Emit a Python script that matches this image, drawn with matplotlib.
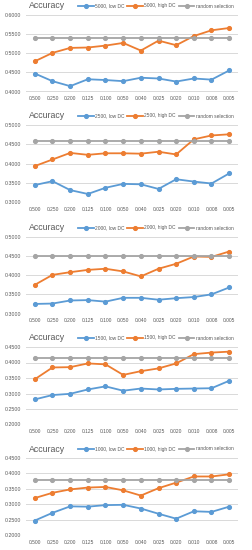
import numpy as np
import matplotlib
matplotlib.use('Agg')
import matplotlib.pyplot as plt

plt.rcParams['font.family'] = ['Liberation Sans', 'DejaVu Sans']

##----- data
fractions = ['0.500', '0.250', '0.200', '0.125', '0.100', '0.050',
             '0.040', '0.025', '0.020', '0.010', '0.008', '0.005']
sizes = ['5000', '2500', '2000', '1500', '1000']

low_5000 = [0.447, 0.427, 0.414, 0.432, 0.430, 0.427, 0.436, 0.434, 0.426, 0.434, 0.431, 0.455]
high_5000 = [0.479, 0.501, 0.514, 0.515, 0.520, 0.527, 0.507, 0.533, 0.521, 0.545, 0.560, 0.566]
rand_5000 = 0.541

low_2500 = [0.345, 0.355, 0.332, 0.322, 0.338, 0.348, 0.347, 0.335, 0.360, 0.354, 0.349, 0.375]
high_2500 = [0.394, 0.411, 0.428, 0.423, 0.427, 0.427, 0.426, 0.431, 0.424, 0.463, 0.473, 0.476]
rand_2500 = 0.459

low_2000 = [0.325, 0.326, 0.334, 0.335, 0.331, 0.341, 0.341, 0.336, 0.340, 0.343, 0.350, 0.368]
high_2000 = [0.375, 0.401, 0.408, 0.414, 0.417, 0.410, 0.397, 0.417, 0.430, 0.449, 0.448, 0.462]
rand_2000 = 0.451

low_1500 = [0.281, 0.295, 0.299, 0.313, 0.323, 0.309, 0.316, 0.313, 0.315, 0.316, 0.317, 0.341]
high_1500 = [0.346, 0.384, 0.385, 0.397, 0.394, 0.360, 0.372, 0.381, 0.397, 0.427, 0.432, 0.435]
rand_1500 = 0.415

low_1000 = [0.247, 0.272, 0.293, 0.292, 0.297, 0.298, 0.286, 0.269, 0.253, 0.277, 0.275, 0.292]
high_1000 = [0.320, 0.337, 0.348, 0.354, 0.356, 0.345, 0.328, 0.352, 0.370, 0.390, 0.390, 0.397]
rand_1000 = 0.378

lows = [low_5000, low_2500, low_2000, low_1500, low_1000]
highs = [high_5000, high_2500, high_2000, high_1500, high_1000]
rands = [rand_5000, rand_2500, rand_2000, rand_1500, rand_1000]
ylims = [(0.4, 0.6), (0.3, 0.5), (0.3, 0.5), (0.2, 0.45), (0.2, 0.45)]

##----- layout in pixels (top of plot area, bottom of plot area)
W, H = 252., 550.
boxes = [(15, 91.5), (125, 202.5), (237, 313.5), (347, 424.5), (458, 535)]
x0, x1 = 26., 238.

blue = '#5B9BD5'
orange = '#ED7D31'
grey = '#A5A5A5'

fig = plt.figure(figsize=(W / 100, H / 100), dpi=100)
x = np.arange(len(fractions))

for k in range(5):
    top, bot = boxes[k]
    ax = fig.add_axes([x0 / W, 1 - bot / H, (x1 - x0) / W, (bot - top) / H])
    lo, hi = ylims[k]
    ax.set_ylim(lo, hi)
    ax.set_xlim(-0.5, len(fractions) - 0.5)
    ax.set_yticks(np.arange(lo, hi + 0.001, 0.05))
    ax.set_yticklabels(['%.4f' % v for v in np.arange(lo, hi + 0.001, 0.05)])
    ax.set_xticks(x)
    ax.set_xticklabels(fractions)
    ax.tick_params(length=0, colors='#595959')
    ax.tick_params(axis='x', labelsize=3.5, pad=3.3)
    ax.tick_params(axis='y', labelsize=3.8, pad=3.5)
    ax.grid(axis='y', color='#D9D9D9', lw=0.7)
    ax.set_axisbelow(True)
    for s in ax.spines.values():
        s.set_visible(False)

    l1, = ax.plot(x, lows[k], '-o', color=blue, lw=1.3, ms=2.7, label=sizes[k] + ', low DC')
    l2, = ax.plot(x, highs[k], '-o', color=orange, lw=1.3, ms=2.7, label=sizes[k] + ', high DC')
    l3, = ax.plot(x, [rands[k]] * len(x), '-o', color=grey, lw=1.3, ms=2.7, label='random selection')

    ty = 1 - (top - 9) / H
    fig.text(29 / W, ty, 'Accuracy', fontsize=6.3, color='#595959', va='center', ha='left')
    fig.legend(handles=[l1, l2, l3], loc='center left', bbox_to_anchor=(78 / W, ty),
               ncol=3, frameon=False, fontsize=3.5, handlelength=3.2, handletextpad=0.3,
               columnspacing=0.6, borderpad=0, borderaxespad=0, labelcolor='#595959')

fig.savefig('out.png', dpi=100)
